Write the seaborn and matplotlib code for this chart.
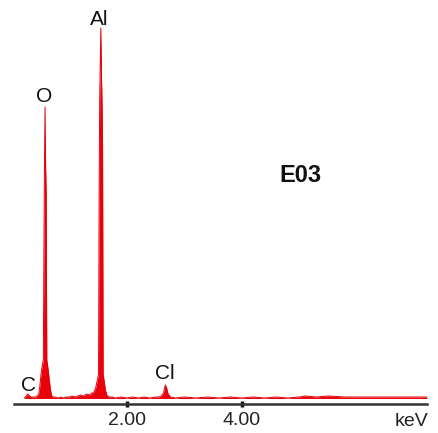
import matplotlib
matplotlib.use("Agg")
import matplotlib.pyplot as plt
import seaborn as sns
import pandas as pd

# ---- data ----
energy_keV = [0.22, 0.25, 0.28, 0.31, 0.34, 0.38, 0.42,
              0.44, 0.47, 0.49, 0.51, 0.53, 0.55, 0.56, 0.57, 0.58, 0.59, 0.60, 0.61,
              0.63, 0.65, 0.67, 0.69, 0.71,
              0.75, 0.80, 0.85, 0.90, 0.95, 1.00, 1.05, 1.10, 1.15, 1.20, 1.25, 1.30,
              1.35, 1.40, 1.43,
              1.46, 1.49, 1.51, 1.52, 1.53, 1.54, 1.55, 1.56, 1.57, 1.58, 1.59,
              1.61, 1.63, 1.66, 1.70,
              1.75, 1.80, 1.90, 2.00, 2.10, 2.20, 2.30, 2.40, 2.50, 2.56,
              2.60, 2.64, 2.67, 2.69, 2.72, 2.76,
              2.85, 3.00, 3.20, 3.40, 3.60, 3.80, 4.00, 4.20, 4.40, 4.60, 4.80,
              5.00, 5.10, 5.30, 5.50, 5.80, 6.00, 6.30, 6.60, 6.90, 7.22]
counts = [6, 8, 10, 8, 7, 7, 7,
          8, 10, 18, 30, 38, 44, 150, 240, 297, 236, 210, 44,
          36, 26, 16, 9, 7,
          7, 6, 7, 6, 7, 7, 8, 7, 8, 9, 8, 10,
          9, 11, 12,
          16, 24, 30, 200, 304, 340, 376, 330, 304, 260, 30,
          22, 14, 8, 7,
          7, 6, 7, 6, 7, 6, 7, 6, 7, 7,
          8, 11, 19, 17, 10, 7,
          6, 7, 6, 7, 6, 7, 6, 7, 6, 7, 6,
          7, 8, 7, 8, 7, 7, 7, 7, 7, 7]

tick_values = [2.0, 4.0]
tick_labels = ["2.00", "4.00"]
peak_labels = ["C", "O", "Al", "Cl"]
sample_name = "E03"
unit_label = "keV"

df = pd.DataFrame({"energy": energy_keV, "counts": counts})

sns.set_theme(style="white")
plt.rcParams["font.family"] = ["Liberation Sans", "DejaVu Sans"]

W, H = 439, 433
fig = plt.figure(figsize=(W / 100, H / 100), dpi=100)
fig.patch.set_facecolor("white")

def px2e(x):
    return 2.0 + (x - 126.7) / 57.5

ax = fig.add_axes([14 / W, (H - 404) / H, (427 - 14) / W, 404 / H])
ax.set_facecolor("white")

red = "#E8000A"
ax.fill_between(df["energy"], 5.5, df["counts"], color=red, linewidth=0)
sns.lineplot(data=df, x="energy", y="counts", ax=ax, color=red,
             linewidth=0.7, estimator=None, sort=True)

ax.set_xlim(px2e(14), px2e(427))
ax.set_ylim(0, 404)
ax.set_xlabel("")
ax.set_ylabel("")
ax.set_yticks([])
ax.set_xticks(tick_values)
ax.set_xticklabels(tick_labels, fontsize=14, color="#222222")
ax.tick_params(axis="x", direction="inout", length=4, width=2.5,
               color="#111111", pad=4, bottom=True)
for s in ["left", "top", "right"]:
    ax.spines[s].set_visible(False)
ax.spines["bottom"].set_color("#333333")
ax.spines["bottom"].set_linewidth(1.8)

def ftext(x, y, s, **kw):
    fig.text(x / W, 1 - y / H, s, **kw)

lab_kw = dict(fontsize=15, color="#111111", ha="center", va="baseline")
ftext(29, 391, peak_labels[0], **lab_kw)
ftext(44, 102, peak_labels[1], **lab_kw)
ftext(99, 25, peak_labels[2], **lab_kw)
ftext(165, 379, peak_labels[3], **lab_kw)
ftext(300, 182, sample_name, fontsize=17, fontweight="bold",
      color="#111111", ha="center", va="baseline")
ftext(428, 426, unit_label, fontsize=14, color="#222222",
      ha="right", va="baseline")

fig.savefig("out.png", dpi=100, facecolor="white")
